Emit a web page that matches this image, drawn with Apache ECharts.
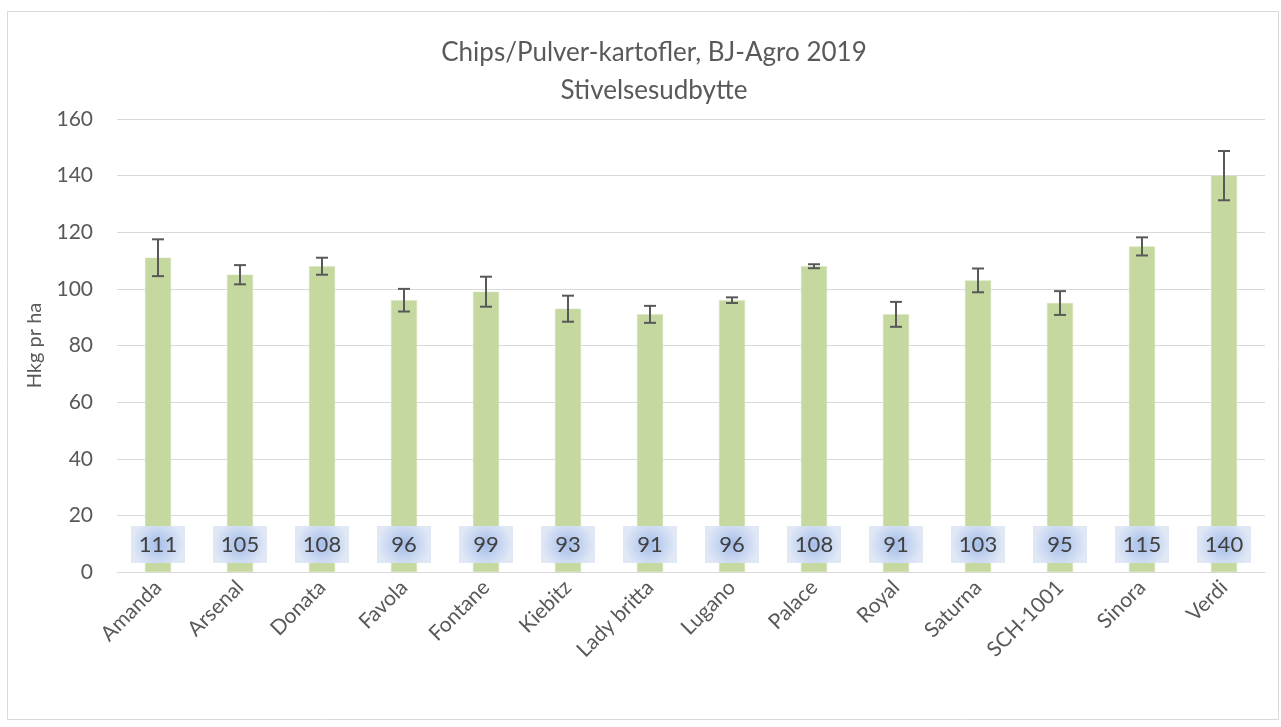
<!DOCTYPE html>
<html>
<head>
<meta charset="utf-8">
<script src="https://cdn.jsdelivr.net/npm/echarts@6/dist/echarts.min.js"></script>
<style>
  html, body { margin: 0; padding: 0; background: #fff; }
  #chart { width: 1281px; height: 727px; }
</style>
</head>
<body>
<div id="chart"></div>
<script>
var sorter = ['Amanda', 'Arsenal', 'Donata', 'Favola', 'Fontane', 'Kiebitz', 'Lady britta',
  'Lugano', 'Palace', 'Royal', 'Saturna', 'SCH-1001', 'Sinora', 'Verdi']
var udbytte = [111, 105, 108, 96, 99, 93, 91, 96, 108, 91, 103, 95, 115, 140]
// spredning (+/-) aflæst fra fejlstregerne
var fejl = [6.5, 3.4, 3, 4, 5.3, 4.6, 3, 1, 0.7, 4.4, 4.2, 4.2, 3.2, 8.7]
var yTicks = [0, 20, 40, 60, 80, 100, 120, 140, 160]

var font = 'Lato'
var chart = echarts.init(document.getElementById('chart'))

var errData = sorter.map(function (s, i) {
  return [i, udbytte[i] - fejl[i], udbytte[i] + fejl[i]]
})

chart.setOption({
  animation: false,
  textStyle: { fontFamily: font },
  graphic: [{
    type: 'rect',
    shape: { x: 7.5, y: 11.5, width: 1271, height: 708 },
    style: { fill: 'none', stroke: '#d9d9d9', lineWidth: 1 },
    silent: true
  }],
  title: {
    text: 'Chips/Pulver-kartofler, BJ-Agro 2019\nStivelsesudbytte',
    left: 649,
    top: 29,
    textAlign: 'center',
    textStyle: { fontFamily: font, fontSize: 26, fontWeight: 'normal', color: '#595959', lineHeight: 38 }
  },
  grid: { left: 117, right: 16, top: 119, bottom: 155, containLabel: false },
  xAxis: {
    type: 'category',
    data: sorter,
    axisLine: { lineStyle: { color: '#d9d9d9', width: 1 } },
    axisTick: { show: false },
    axisLabel: { rotate: 45, color: '#595959', fontSize: 21, fontFamily: font, margin: 12 }
  },
  yAxis: {
    type: 'value',
    min: 0,
    max: 160,
    interval: 20,
    name: 'Hkg pr ha',
    nameLocation: 'middle',
    nameGap: 72,
    nameRotate: 90,
    nameTextStyle: { color: '#595959', fontSize: 20, fontFamily: font },
    axisLine: { show: false },
    axisTick: { show: false },
    axisLabel: {
      color: '#595959', fontSize: 21, fontFamily: font, margin: 24,
      formatter: function (v) { return yTicks.indexOf(v) >= 0 ? String(v) : '' }
    },
    splitLine: { lineStyle: { color: '#d9d9d9', width: 1 } }
  },
  series: [{
    type: 'bar',
    data: udbytte,
    barWidth: 26,
    itemStyle: { color: '#c5d89f', borderColor: '#d6e4bb', borderWidth: 0.5 },
    label: {
      show: true,
      position: 'insideBottom',
      distance: 9,
      color: '#404040',
      fontSize: 22,
      fontFamily: font,
      width: 54,
      height: 37,
      lineHeight: 37,
      align: 'center',
      backgroundColor: new echarts.graphic.RadialGradient(0.5, 0.5, 0.7, [
        { offset: 0, color: '#a6bee9' },
        { offset: 1, color: '#e0e8f6' }
      ])
    }
  }, {
    type: 'custom',
    data: errData,
    z: 10,
    renderItem: function (params, api) {
      var x = api.coord([api.value(0), 0])[0]
      var lo = api.coord([api.value(0), api.value(1)])[1]
      var hi = api.coord([api.value(0), api.value(2)])[1]
      var st = { stroke: '#595959', lineWidth: 2 }
      return {
        type: 'group',
        children: [
          { type: 'line', shape: { x1: x, y1: lo, x2: x, y2: hi }, style: st },
          { type: 'line', shape: { x1: x - 6, y1: lo, x2: x + 6, y2: lo }, style: st },
          { type: 'line', shape: { x1: x - 6, y1: hi, x2: x + 6, y2: hi }, style: st }
        ]
      }
    }
  }]
})
</script>
</body>
</html>
